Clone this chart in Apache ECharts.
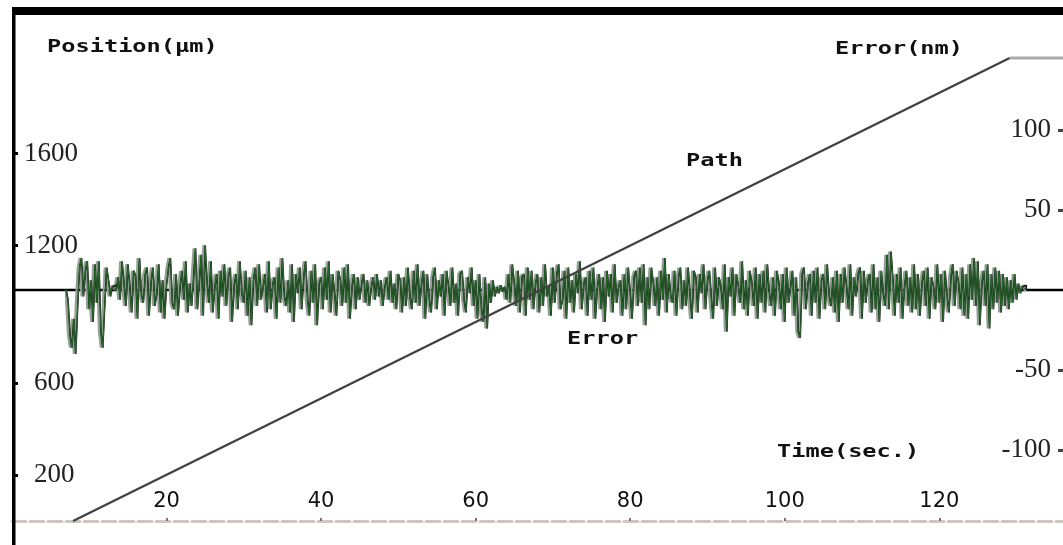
<!DOCTYPE html>
<html>
<head>
<meta charset="utf-8">
<title>Path and Error</title>
<script src="https://cdn.jsdelivr.net/npm/echarts@6/dist/echarts.min.js"></script>
<style>
  html, body { margin: 0; padding: 0; background: #fff; }
  #errChart { width: 1063px; height: 545px; }
</style>
</head>
<body>
<div id="errChart"></div>
<script>
// tick labels
var timeTicks = [20, 40, 60, 80, 100, 120];
var posTicks = [200, 600, 1200, 1600];
var errTicks = [-100, -50, 50, 100];

// path (position, um) vs time (sec.)
var pathTime = [7.9, 129.1];
var pathPos = [0, 2017];
var holdTime = [129.1, 136];
var holdPos = [2017, 2017];

// zero line of the error axis
var zeroTime = [0, 136];
var zeroErr = [0, 0];

// error (nm), one sample every 0.25 sec. from 7 sec.
var errStart = 7.0;
var errStep = 0.25;
var errValues = [
    0, -6, -28, -36, -18, -40, -10, 14, 20, -4, 12, 18, -12, 6, -20, 16, -8, 18, -26, -36,
    -10, 14, 6, -4, 2, 3, 0, 8, -6, 18, 4, -10, 16, 2, -14, 12, 9, -18, 20, -3,
    -8, 10, 14, -16, 5, 14, -10, -2, 16, -14, 6, -18, 3, 14, 20, -8, -12, 10, -16, 2,
    12, -6, 18, -14, 4, -10, 8, 26, -12, 6, 22, -16, 28, 4, -8, 18, -14, 2, 10, -18,
    12, -4, 16, -10, 8, 14, -20, 3, 10, -12, 18, -2, -8, 12, -16, 8, -22, 6, 14, -10,
    16, -6, 2, 10, -14, 18, -12, 4, 8, -18, 14, -8, 20, -4, -10, 6, -14, 16, -20, 10,
    -2, 14, -12, 8, 18, -6, -16, 12, -8, 16, -22, 4, 8, -12, 14, -6, 18, -14, 10, -2,
    -16, 12, 6, -10, 14, -8, 16, -18, 2, 10, -12, 8, -6, 4, 10, -8, 6, -10, 2, 8,
    -6, 10, -4, 6, -10, 2, 8, -6, 12, -8, 4, -12, 10, 6, -14, 8, -10, 14, -4, -12,
    12, -8, 16, -10, 4, 12, -18, 10, -6, -14, 8, 14, -12, 6, -4, 10, -16, 12, 2, -10,
    14, -8, 4, -16, 10, 12, -6, -14, 8, -2, 14, -10, 6, -18, 10, -12, -20, 8, -24, 4,
    -8, 6, -4, 2, -2, 3, -1, 2, -6, 10, -8, 16, 4, -10, 12, -14, 8, 10, -16, 14,
    -6, 12, -12, 4, 10, -14, 8, -10, 16, -4, 2, -16, 14, -8, 10, 16, -12, -6, 12, -18,
    14, -8, 6, -14, 10, -2, 18, -12, 4, 8, -16, 12, -6, 14, -18, 2, 10, -12, 8, -20,
    12, -4, 10, -14, 16, -8, 2, 6, -16, 10, -12, 14, -2, -18, 8, 12, -10, 14, -8, 16,
    -22, 8, -12, 14, 4, -10, 8, -16, 12, -6, 20, -14, 10, -4, -8, 12, -16, 8, 14, -12,
    6, -10, 14, -4, -18, 12, 8, -14, 10, -2, 16, -12, 6, 12, -6, -18, 14, -10, 8, 2,
    -12, 16, -26, 8, -4, 14, -16, 10, 2, -8, 18, -12, 6, -16, 12, 4, -10, 14, -18, 10,
    -8, 12, -14, 16, -2, -10, 8, -16, 12, 4, -12, 10, -20, 14, -8, 2, 12, -16, 8, -26,
    -30, 10, 14, -12, 4, 10, -16, 12, -8, 14, -18, 6, 10, -12, 16, -4, -10, 8, -14, 12,
    -20, 10, -8, 14, 2, -12, 16, -16, 8, -4, 10, 14, -18, 12, -8, 6, 10, -14, 16, -12,
    8, -20, 12, -2, -10, 22, -12, 24, 6, -16, 10, -8, 14, -18, 2, 12, -10, 8, -14, 16,
    -12, 10, -16, 4, 12, -10, 14, -18, 8, 2, -12, 16, -8, 10, -20, 12, -4, -14, 8, 16,
    -10, 12, 4, -12, 14, -16, 10, -18, 16, -6, 20, -10, 18, -22, 4, 12, -10, 16, -24, 10,
    -12, 14, -8, 12, -14, 10, -10, 8, -12, 6, -8, 10, -6, 4, -2, 2, 3, 0
];

function pairs(xs, ys) {
    var out = [];
    for (var i = 0; i < xs.length; i++) {
        out.push([xs[i], ys[i]]);
    }
    return out;
}

var errData = [];
for (var i = 0; i < errValues.length; i++) {
    errData.push([errStart + i * errStep, errValues[i]]);
}

var serifLabel = {
    fontFamily: 'Liberation Serif', fontSize: 27, color: '#222',
    rich: { s: { fontFamily: 'Liberation Serif', fontSize: 27, color: '#222', padding: [0, 0, 0, 10] } }
};
var tagStyle = { fontFamily: 'DejaVu Sans Mono', fontWeight: 'bold', fontSize: 17, fill: '#111', textVerticalAlign: 'middle' };

function tag(text, x, y) {
    return {
        type: 'text', x: x, y: y, scaleX: 1.39, z: 100,
        style: Object.assign({ text: text }, tagStyle)
    };
}

function errSeries(name, step, color, width, z) {
    return {
        name: name, type: 'line', xAxisIndex: 1, yAxisIndex: 1,
        data: errData, symbol: 'none', step: step, z: z,
        lineStyle: { color: color, width: width }
    };
}

var option = {
    animation: false,
    backgroundColor: '#fff',
    grid: [
        { left: 12, right: 0, top: 16, bottom: 24 },
        { left: 12, right: 0, top: 50, bottom: 15 }
    ],
    xAxis: [
        {
            gridIndex: 0, type: 'value', min: 0, max: 136,
            splitLine: { show: false },
            axisLine: { show: true, lineStyle: { color: '#cdc8bb', width: 3, type: [14, 4] } },
            axisTick: { show: true, inside: true, length: 3, customValues: timeTicks, lineStyle: { color: '#777', width: 2 } },
            axisLabel: {
                inside: true, margin: 9, customValues: timeTicks,
                fontFamily: 'DejaVu Sans', fontSize: 21, color: '#111'
            }
        },
        {
            gridIndex: 1, type: 'value', min: 0, max: 136, show: false
        }
    ],
    yAxis: [
        {
            gridIndex: 0, type: 'value', min: 0, max: 2200, position: 'left',
            splitLine: { show: false },
            axisLine: { show: false },
            axisTick: { show: true, inside: true, length: 6, customValues: posTicks, lineStyle: { color: '#000', width: 3 } },
            axisLabel: Object.assign({
                inside: true, margin: 12, customValues: posTicks,
                formatter: function (v) { return v < 1000 ? '{s|' + v + '}' : String(v); }
            }, serifLabel)
        },
        {
            // error axis sits on the right edge of the frame
            gridIndex: 1, type: 'value', min: -150, max: 150, position: 'left', offset: -1051,
            splitLine: { show: false },
            axisLine: { show: false },
            axisTick: { show: true, inside: false, length: 5, customValues: errTicks, lineStyle: { color: '#444', width: 3 } },
            axisLabel: Object.assign({
                inside: false, margin: 12, customValues: errTicks,
                formatter: function (v) { return String(v); }
            }, serifLabel)
        }
    ],
    graphic: [
        { type: 'rect', shape: { x: 12, y: 7, width: 1051, height: 8 }, style: { fill: '#000' }, z: 90 },
        { type: 'rect', shape: { x: 12, y: 7, width: 3.5, height: 538 }, style: { fill: '#000' }, z: 90 },
        tag('Position(\u00b5m)', 47, 48),
        tag('Error(nm)', 835, 50),
        tag('Path', 686, 162),
        tag('Error', 567, 340),
        tag('Time(sec.)', 777, 453)
    ],
    series: [
        {
            name: 'Zero', type: 'line', xAxisIndex: 1, yAxisIndex: 1,
            data: pairs(zeroTime, zeroErr), symbol: 'none', z: 1,
            lineStyle: { color: '#000', width: 2.5 }
        },
        errSeries('Error gray', 'start', '#9a9a9a', 2.2, 2),
        errSeries('Error dark', 'end', '#161616', 1.6, 3),
        errSeries('Error', false, '#1f6a24', 1.1, 4),
        {
            name: 'Path', type: 'line', xAxisIndex: 0, yAxisIndex: 0,
            data: pairs(pathTime, pathPos), symbol: 'none', z: 5,
            lineStyle: { color: '#404040', width: 2.3 }
        },
        {
            name: 'Hold', type: 'line', xAxisIndex: 0, yAxisIndex: 0,
            data: pairs(holdTime, holdPos), symbol: 'none', z: 5,
            lineStyle: { color: '#aaa', width: 3 }
        }
    ]
};

var myChart = echarts.init(document.getElementById('errChart'));
myChart.setOption(option);
</script>
</body>
</html>
